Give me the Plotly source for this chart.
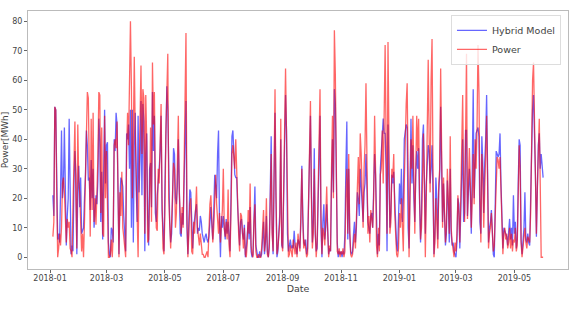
import pandas as pd
import plotly.graph_objects as go

start_date = "2018-01-04"

# Daily measured power [MWh], 2018-01-04 .. 2019-05-31 (one line per month)
power = [
    7, 12, 51, 50, 22, 0, 3, 8, 4, 10, 25, 27, 22, 15, 5, 13, 10, 12, 3, 2, 0, 18, 30, 46, 20, 3, 45, 26,
    22, 10, 2, 8, 0, 12, 30, 42, 56, 54, 25, 7, 47, 16, 49, 12, 20, 11, 22, 34, 56, 55, 15, 44, 8, 7, 48, 20,
    36, 8, 0, 0, 1, 6, 0, 8, 38, 40, 37, 46, 24, 0, 22, 14, 29, 10, 7, 3, 0, 36, 49, 38, 55, 80, 58, 20, 40, 68, 43,
    30, 10, 0, 28, 45, 65, 35, 57, 54, 8, 55, 40, 5, 6, 20, 44, 12, 66, 45, 56, 25, 10, 9, 30, 25, 41, 52, 20, 3, 1,
    15, 42, 55, 69, 20, 10, 3, 12, 25, 32, 30, 10, 15, 30, 48, 22, 12, 8, 17, 10, 30, 55, 76, 14, 0, 8, 18, 20, 2, 1, 12,
    8, 14, 24, 10, 6, 4, 8, 3, 1, 1, 0, 0, 1, 2, 0, 10, 18, 21, 12, 5, 10, 20, 28, 18, 12, 8, 15, 5, 11, 16,
    30, 10, 7, 12, 6, 23, 4, 0, 15, 35, 38, 33, 30, 40, 30, 12, 8, 2, 15, 14, 7, 3, 10, 1, 0, 5, 16, 8, 25, 4, 1,
    0, 12, 18, 2, 0, 0, 1, 0, 0, 3, 8, 16, 2, 6, 20, 1, 0, 3, 18, 35, 8, 2, 30, 57, 22, 1, 3, 10, 12, 47, 5,
    2, 30, 48, 64, 42, 10, 0, 1, 4, 2, 0, 6, 3, 1, 5, 0, 8, 4, 2, 15, 30, 12, 3, 6, 2, 0, 1, 20, 40, 53,
    20, 3, 8, 30, 10, 0, 5, 20, 42, 57, 14, 1, 10, 8, 4, 12, 24, 9, 0, 4, 2, 30, 48, 20, 77, 62, 30, 2, 1, 3, 0,
    2, 1, 3, 0, 2, 20, 30, 8, 35, 10, 1, 0, 1, 5, 8, 3, 12, 25, 34, 18, 42, 35, 20, 10, 30, 38, 59, 18, 8, 14,
    5, 16, 12, 10, 20, 48, 30, 4, 0, 10, 2, 28, 30, 43, 25, 45, 72, 40, 8, 73, 30, 8, 12, 30, 27, 35, 15, 5, 1, 0, 3,
    15, 10, 20, 8, 2, 25, 45, 52, 59, 12, 0, 20, 40, 30, 48, 28, 8, 30, 48, 36, 47, 20, 6, 10, 30, 42, 25, 0, 20, 37, 67,
    40, 22, 60, 74, 30, 0, 5, 20, 12, 3, 25, 30, 64, 20, 10, 27, 15, 5, 10, 30, 20, 8, 41, 10, 5, 3, 0, 5,
    2, 8, 21, 15, 5, 20, 38, 55, 22, 12, 40, 69, 13, 30, 37, 25, 10, 20, 35, 18, 40, 30, 44, 72, 56, 20, 5, 35, 28, 10, 30,
    35, 48, 20, 3, 8, 10, 15, 6, 2, 4, 15, 30, 34, 33, 30, 34, 20, 12, 1, 8, 10, 6, 8, 3, 5, 10, 3, 8, 2, 6,
    5, 10, 2, 4, 20, 38, 30, 5, 0, 3, 8, 10, 5, 3, 7, 6, 5, 15, 40, 60, 66, 50, 30, 8, 24, 40, 47, 25, 0, 0, 0,
]

# Daily hybrid-model prediction [MWh], same dates
hybrid = [
    21, 14, 51, 50, 28, 6, 8, 5, 22, 43, 20, 24, 44, 17, 4, 14, 20, 47, 10, 1, 4, 2, 25, 36, 28, 1, 22, 31,
    17, 27, 8, 9, 10, 20, 28, 43, 38, 26, 27, 16, 33, 20, 30, 10, 17, 21, 18, 26, 47, 40, 12, 29, 6, 33, 50, 25,
    38, 39, 5, 1, 0, 10, 9, 5, 40, 36, 49, 45, 10, 1, 20, 27, 26, 24, 14, 8, 2, 42, 40, 45, 30, 50, 10, 50, 5, 38, 49,
    23, 12, 48, 22, 33, 53, 21, 52, 46, 2, 35, 42, 14, 4, 30, 32, 17, 56, 36, 48, 15, 12, 21, 28, 30, 36, 48, 16, 6, 2,
    24, 47, 58, 50, 25, 12, 5, 8, 20, 37, 35, 20, 18, 24, 40, 24, 8, 7, 15, 11, 28, 45, 53, 10, 1, 12, 23, 22, 8, 3, 10,
    14, 16, 18, 8, 10, 9, 14, 12, 8, 6, 5, 7, 8, 6, 5, 7, 14, 17, 11, 6, 15, 28, 24, 20, 35, 43, 12, 0, 14, 10,
    14, 9, 6, 13, 8, 12, 6, 2, 20, 41, 43, 36, 28, 27, 27, 17, 10, 4, 12, 13, 8, 6, 11, 0, 3, 8, 12, 6, 17, 2, 0,
    1, 15, 24, 4, 1, 0, 0, 2, 0, 1, 6, 12, 1, 5, 14, 2, 0, 5, 22, 41, 10, 1, 25, 49, 20, 0, 2, 8, 15, 40, 4,
    3, 25, 50, 55, 43, 8, 2, 5, 6, 3, 4, 3, 9, 4, 3, 1, 6, 5, 3, 12, 31, 15, 5, 4, 6, 1, 3, 18, 36, 48,
    24, 5, 12, 37, 8, 2, 3, 18, 40, 48, 10, 0, 12, 18, 6, 10, 18, 8, 1, 3, 2, 25, 40, 22, 57, 52, 25, 5, 0, 2, 1,
    2, 0, 2, 1, 8, 30, 46, 6, 30, 8, 2, 1, 2, 8, 12, 5, 10, 22, 20, 14, 30, 24, 18, 12, 22, 25, 35, 20, 12, 10,
    8, 14, 15, 10, 25, 35, 28, 6, 1, 8, 4, 30, 35, 40, 47, 42, 42, 30, 2, 45, 25, 10, 15, 28, 25, 29, 20, 10, 4, 2, 12,
    25, 18, 30, 12, 20, 40, 42, 45, 44, 10, 3, 25, 47, 25, 38, 20, 12, 28, 36, 30, 37, 18, 5, 15, 40, 45, 30, 8, 25, 30, 38,
    36, 25, 30, 38, 22, 1, 8, 27, 20, 6, 22, 28, 51, 24, 12, 25, 10, 4, 8, 26, 18, 5, 30, 8, 4, 5, 2, 1,
    0, 5, 20, 18, 3, 15, 35, 40, 12, 15, 43, 43, 14, 25, 30, 22, 8, 30, 57, 20, 38, 42, 43, 44, 41, 12, 8, 41, 32, 15, 32,
    40, 55, 22, 5, 10, 12, 16, 8, 1, 0, 20, 36, 35, 34, 35, 42, 25, 15, 3, 10, 9, 8, 7, 4, 8, 13, 6, 10, 4, 21,
    8, 12, 3, 6, 25, 40, 38, 6, 1, 5, 10, 22, 6, 5, 8, 5, 4, 20, 38, 50, 55, 45, 28, 7, 26, 38, 42, 30, 35, 32, 27,
]

series_names = ["Hybrid Model", "Power"]
x_title = "Date"
y_title = "Power[MWh]"

dates = pd.date_range(start_date, periods=len(power), freq="D")

fig = go.Figure()
fig.add_trace(go.Scatter(x=dates, y=hybrid, mode="lines", name=series_names[0],
                         line=dict(color="rgba(0,0,255,0.6)", width=1.3)))
fig.add_trace(go.Scatter(x=dates, y=power, mode="lines", name=series_names[1],
                         line=dict(color="rgba(255,0,0,0.6)", width=1.3)))

fig.update_layout(
    width=571, height=315,
    margin=dict(l=28, r=3, t=11, b=46),
    plot_bgcolor="white", paper_bgcolor="white",
    font=dict(family="DejaVu Sans", size=8, color="#444"),
    legend=dict(x=0.987, y=0.985, xanchor="right", yanchor="top",
                bgcolor="rgba(255,255,255,0.8)", bordercolor="#ddd", borderwidth=1,
                font=dict(size=9.5), itemwidth=30, tracegroupgap=0),
)
fig.update_xaxes(
    range=["2017-12-09", "2019-06-26"], tickformat="%Y-%m", dtick="M2", tick0="2018-01-01",
    showline=True, mirror=True, linecolor="#bbb", linewidth=1,
    ticks="outside", ticklen=3, tickcolor="#666", showgrid=False, zeroline=False,
    ticklabelstandoff=-2,
    title=dict(text=x_title, font=dict(size=9.5), standoff=2),
)
fig.update_yaxes(
    range=[-3.98, 83.5], dtick=10, tick0=0,
    showline=True, mirror=True, linecolor="#bbb", linewidth=1,
    ticks="outside", ticklen=3, tickcolor="#666", showgrid=False, zeroline=False,
    title=dict(text=y_title, font=dict(size=9), standoff=2),
)

fig.write_html("out.html")
